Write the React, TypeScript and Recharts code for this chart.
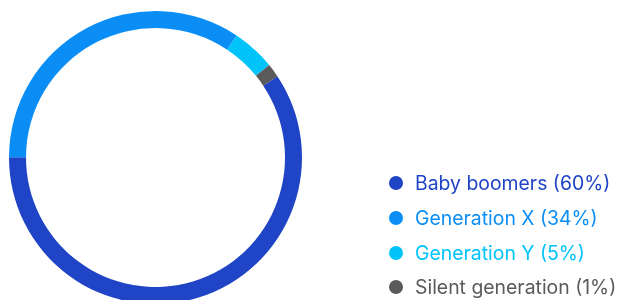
// Generation share donut with a coloured legend on the right

import { PieChart, Pie, Cell, Legend } from 'recharts'

const names = ['Baby boomers', 'Generation X', 'Generation Y', 'Silent generation']
const shares = [59.4, 34.3, 4.8, 1.5]
const labels = ['60%', '34%', '5%', '1%']
const colors = ['#1f44c5', '#0a8ef5', '#00c3fa', '#5a5a5a']

const data = names.map((name, i) => ({ name, value: shares[i], label: labels[i] }))

function GenLegend() {
    return (
        <div style={{ fontFamily: 'Inter, sans-serif', fontSize: 19.4 }}>
            {data.map((d, i) => (
                <div key={d.name} style={{ display: 'flex', alignItems: 'center', height: 34.7, whiteSpace: 'nowrap' }}>
                    <span style={{
                        display: 'inline-block', width: 14, height: 14, borderRadius: 7,
                        background: colors[i], marginRight: 12,
                    }} />
                    <span style={{ color: colors[i] }}>{d.name} ({d.label})</span>
                </div>
            ))}
        </div>
    )
}

export default function App() {
    return (
        <div style={{ position: 'fixed', left: 0, top: 0, width: 621, height: 300, background: '#fff' }}>
            <PieChart width={621} height={300} margin={{ top: 0, right: 0, bottom: 0, left: 0 }}>
                <Pie
                    data={data}
                    dataKey="value"
                    cx={155.5}
                    cy={157.5}
                    innerRadius={129.5}
                    outerRadius={146.5}
                    startAngle={33.7}
                    endAngle={-326.3}
                    stroke="none"
                    isAnimationActive={false}
                >
                    {data.map((d, i) => <Cell key={d.name} fill={colors[i]} />)}
                </Pie>
                <Legend
                    layout="vertical"
                    content={<GenLegend />}
                    wrapperStyle={{ left: 389, top: 166, width: 232 }}
                />
            </PieChart>
        </div>
    )
}
